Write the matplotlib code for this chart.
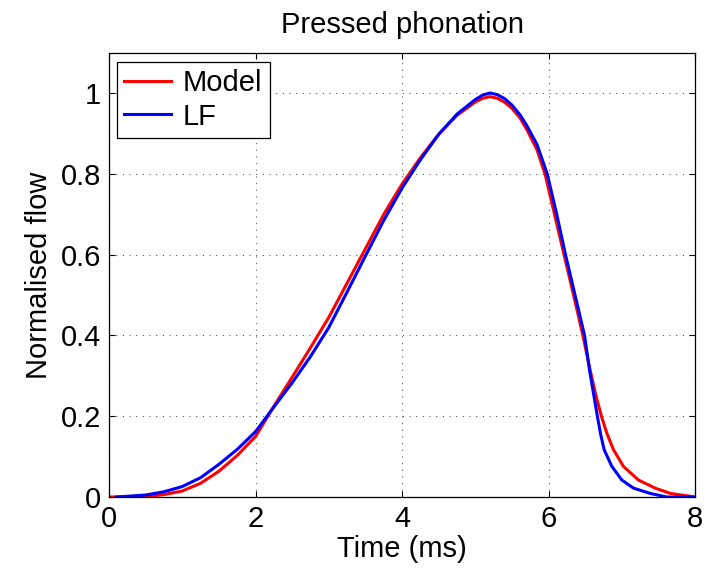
import numpy as np
import matplotlib
matplotlib.use("Agg")
import matplotlib.pyplot as plt
from matplotlib.ticker import FuncFormatter

# Model curve (ms, normalised flow)
model_t = [0, 0.5, 0.75, 1.0, 1.25, 1.5, 1.75, 2.0, 2.25, 2.5, 2.75, 3.0, 3.25,
           3.5, 3.75, 4.0, 4.25, 4.5, 4.75, 5.0, 5.1, 5.2, 5.3, 5.4, 5.5,
           5.61, 5.7, 5.84, 5.95, 6.08, 6.21, 6.34, 6.467, 6.557, 6.64, 6.72,
           6.794, 6.885, 7.02, 7.226, 7.454, 7.66, 8.0]
model_flow = [0, 0.001, 0.006, 0.015, 0.034, 0.064, 0.103, 0.15, 0.225, 0.297,
              0.37, 0.445, 0.53, 0.615, 0.7, 0.775, 0.84, 0.898, 0.945, 0.978,
              0.987, 0.991, 0.987, 0.977, 0.962, 0.938, 0.91, 0.86, 0.8, 0.7,
              0.6, 0.5, 0.4, 0.322, 0.255, 0.2, 0.158, 0.117, 0.076, 0.042,
              0.022, 0.009, 0.0]

# LF model curve
lf_t = [0.1, 0.5, 0.75, 1.0, 1.25, 1.5, 1.75, 2.0, 2.25, 2.5, 2.75, 3.0, 3.25,
        3.5, 3.75, 4.0, 4.25, 4.5, 4.75, 5.0, 5.1, 5.2, 5.3, 5.4, 5.5,
        5.61, 5.7, 5.84, 5.98, 6.11, 6.23, 6.36, 6.49, 6.557, 6.665, 6.71,
        6.758, 6.862, 6.999, 7.158, 7.385, 7.61, 8.0]
lf_flow = [0, 0.005, 0.013, 0.026, 0.048, 0.081, 0.118, 0.162, 0.223, 0.283,
           0.348, 0.42, 0.508, 0.597, 0.685, 0.765, 0.835, 0.898, 0.948, 0.984,
           0.995, 1.0, 0.996, 0.986, 0.97, 0.946, 0.92, 0.873, 0.8, 0.7, 0.6,
           0.5, 0.4, 0.315, 0.2, 0.155, 0.117, 0.076, 0.042, 0.022, 0.009, 0.0,
           0.0]

x_ticks = [0, 2, 4, 6, 8]
y_ticks = [0, 0.2, 0.4, 0.6, 0.8, 1.0]

plt.rcParams['font.family'] = ['Liberation Sans', 'DejaVu Sans']
fs = 21

fig = plt.figure(figsize=(7.13, 5.69), dpi=100)
ax = fig.add_axes([0.153, 0.1265, 0.822, 0.781])

ax.plot(model_t, model_flow, color='#ff0000', lw=2.2, label='Model')
ax.plot(lf_t, lf_flow, color='#0000ff', lw=2.2, label='LF')

ax.set_xlim(0, 8)
ax.set_ylim(0, 1.1)
ax.set_xticks(x_ticks)
ax.set_yticks(y_ticks)
ax.yaxis.set_major_formatter(FuncFormatter(lambda v, p: '%g' % v))
ax.tick_params(direction='in', length=4, width=0.8, labelsize=fs,
               top=True, right=True, pad=6)
ax.grid(True, color='0.35', linestyle=(0, (1, 5)), linewidth=0.8)
for s in ax.spines.values():
    s.set_linewidth(0.9)

ax.set_title('Pressed phonation', fontsize=fs, pad=14)
ax.set_xlabel('Time (ms)', fontsize=fs, labelpad=1)
ax.set_ylabel('Normalised flow', fontsize=fs, labelpad=5)

leg = ax.legend(loc='upper left', bbox_to_anchor=(0.0137, 0.98),
                borderaxespad=0, fontsize=fs, fancybox=False,
                edgecolor='black', framealpha=1, borderpad=0.25,
                labelspacing=0.2, handlelength=1.6, handletextpad=0.4)
leg.get_frame().set_linewidth(0.9)

fig.savefig('out.png', dpi=100)
